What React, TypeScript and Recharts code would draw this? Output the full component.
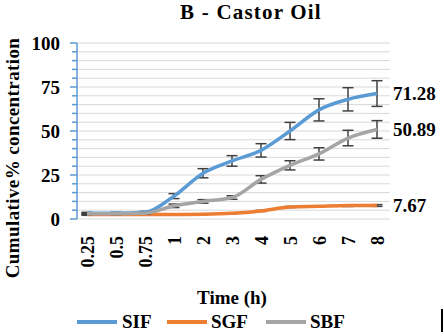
import React from 'react';
import {
  LineChart,
  Line,
  XAxis,
  YAxis,
  CartesianGrid,
  ErrorBar,
  LabelList,
} from 'recharts';

const hours = ['0.25', '0.5', '0.75', '1', '2', '3', '4', '5', '6', '7', '8'];
const sif = [3.3, 3.3, 3.8, 13, 26, 33, 39, 50, 62, 68, 71.28];
const sifErr = [0.5, 0.5, 0.5, 1.4, 2.6, 3, 3.8, 4.9, 6.3, 6.6, 7.3];
const sgf = [2.6, 2.6, 2.6, 2.6, 2.7, 3.2, 4.6, 6.8, 7.2, 7.6, 7.67];
const sgfErr = [0.5, 0.3, 0.3, 0.3, 0.3, 0.3, 0.3, 0.3, 0.3, 0.5, 0.5];
const sbf = [3, 3, 3.2, 7.5, 10, 12.2, 22.5, 30.5, 37, 46, 50.89];
const sbfErr = [0.5, 0.5, 0.5, 1, 1, 1, 2.1, 2.6, 3.5, 4.4, 5];
const yTicks = [0, 5, 10, 15, 20, 25, 30, 35, 40, 45, 50, 55, 60, 65, 70, 75, 80, 85, 90, 95, 100];

const series = [
  { key: 'SIF', err: 'sifErr', color: '#5B9BD5', lx: 77, tx: 122 },
  { key: 'SGF', err: 'sgfErr', color: '#ED7D31', lx: 167, tx: 211 },
  { key: 'SBF', err: 'sbfErr', color: '#A5A5A5', lx: 266, tx: 310 },
];

const data = hours.map((h, i) => ({
  h,
  SIF: sif[i],
  sifErr: sifErr[i],
  SGF: sgf[i],
  sgfErr: sgfErr[i],
  SBF: sbf[i],
  sbfErr: sbfErr[i],
}));

const font = "'Liberation Serif', 'Times New Roman', serif";

const YTick = (props: any) => {
  const { x, y, payload } = props;
  const major = payload.value % 25 === 0;
  return (
    <g>
      <line x1={x - (major ? 7 : 5)} x2={x} y1={y} y2={y} stroke="#5B9BD5" strokeWidth={1.5} />
      {major && (
        <text x={x - 17} y={y} dy="0.35em" textAnchor="end" fontFamily={font} fontWeight="bold" fontSize={19} fill="#000">
          {payload.value}
        </text>
      )}
    </g>
  );
};

const XTick = (props: any) => {
  const { x, y, payload } = props;
  return (
    <text
      x={x}
      y={y}
      dy="0.4em"
      textAnchor="end"
      transform={`rotate(-90, ${x}, ${y})`}
      fontFamily={font}
      fontWeight="bold"
      fontSize={18}
      fill="#000"
    >
      {payload.value}
    </text>
  );
};

const EndLabel = (props: any) => {
  const { x, y, value, index } = props;
  if (index !== hours.length - 1) return null;
  return (
    <text x={x + 16} y={y} dy="0.35em" fontFamily={font} fontWeight="bold" fontSize={19} fill="#000">
      {value}
    </text>
  );
};

export default function App() {
  return (
    <div style={{ position: 'absolute', left: 0, top: 0, width: 444, height: 336, background: '#fff' }}>
      <LineChart width={444} height={336} data={data} margin={{ top: 43, right: 54, left: 17, bottom: 67 }}>
        <CartesianGrid vertical={false} stroke="#D9D9D9" strokeWidth={1} />
        <XAxis
          dataKey="h"
          axisLine={false}
          tickLine={false}
          tick={<XTick />}
          interval={0}
          height={50}
          tickMargin={11}
          padding={{ left: 10, right: 13 }}
        />
        <YAxis
          domain={[0, 100]}
          ticks={yTicks}
          interval={0}
          width={60}
          tickLine={false}
          tickSize={0}
          tickMargin={0}
          axisLine={{ stroke: '#5B9BD5', strokeWidth: 1.5 }}
          tick={<YTick />}
        />
        {series.map((s) => (
          <Line
            key={s.key}
            dataKey={s.key}
            type="monotone"
            stroke={s.color}
            strokeWidth={3.5}
            dot={false}
            isAnimationActive={false}
          >
            <ErrorBar dataKey={s.err} width={5.5} stroke="#404040" strokeWidth={1.5} />
            <LabelList dataKey={s.key} content={<EndLabel />} />
          </Line>
        ))}
      </LineChart>
      <svg
        width={444}
        height={336}
        style={{ position: 'absolute', left: 0, top: 0, pointerEvents: 'none' }}
        fontFamily={font}
        fontWeight="bold"
        fill="#000"
      >
        <text x={251} y={19} textAnchor="middle" fontSize={21} letterSpacing={1.2}>
          B - Castor Oil
        </text>
        <text x={19} y={158} textAnchor="middle" fontSize={19} letterSpacing={0.4} transform="rotate(-90, 19, 158)">
          Cumulative% concentration
        </text>
        <text x={232} y={304} textAnchor="middle" fontSize={19}>
          Time (h)
        </text>
        {series.map((s) => (
          <g key={s.key}>
            <line x1={s.lx} x2={s.lx + 40} y1={322} y2={322} stroke={s.color} strokeWidth={4} />
            <text x={s.tx} y={328} fontSize={19}>
              {s.key}
            </text>
          </g>
        ))}
      </svg>
      <div style={{ position: 'absolute', left: 441, top: 309, width: 2, height: 23, background: '#000' }} />
    </div>
  );
}
